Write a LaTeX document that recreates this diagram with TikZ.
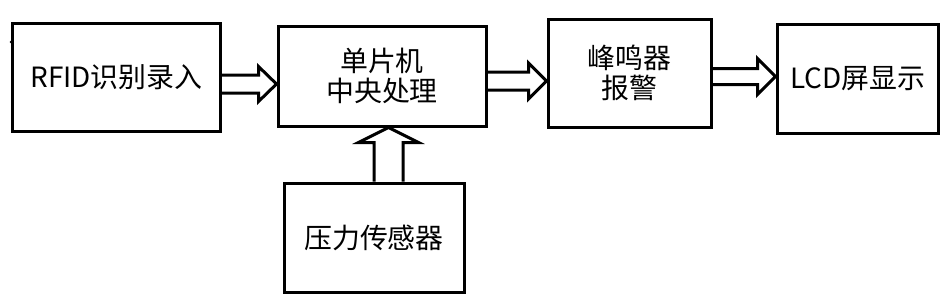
\documentclass[tikz,border=0pt]{standalone}
\usepackage{fontspec}
\setmainfont{Noto Sans CJK SC}
\usetikzlibrary{calc}
\newcommand{\boxtextfont}{\fontsize{28}{30}\selectfont\lineskiplimit=-100pt\relax}
\newcommand{\harrowblk}[5]{% from, to, y-coordinate name, half shaft, half head, (head length fixed 18)
  \draw[blk] ($(#1.east |- #3)+(0,-#4)$) -- ($(#2.west |- #3)+(-18,-#4)$) -- ($(#2.west |- #3)+(-18,-#5)$)
    -- (#2.west |- #3) -- ($(#2.west |- #3)+(-18,#5)$) -- ($(#2.west |- #3)+(-18,#4)$) -- ($(#1.east |- #3)+(0,#4)$);
}
\begin{document}
\begin{tikzpicture}[x=1bp,y=-1bp,
  box/.style={draw, line width=3bp, inner sep=0pt, align=center, font=\boxtextfont},
  blk/.style={draw, line width=3bp, line join=miter}]
\useasboundingbox (0,0) rectangle (945,299);
\node[box, minimum width=207bp, minimum height=108bp] (rfid) at (116.5,77) {RFID识别录入};
\node[box, minimum width=208bp, minimum height=100bp] (mcu) at (382,76) {单片机\\中央处理};
\node[box, minimum width=163bp, minimum height=108bp] (buzz) at (629.5,73) {峰鸣器\\报警};
\node[box, minimum width=161bp, minimum height=109bp] (lcd) at (857.5,78.5) {LCD屏显示};
\node[box, minimum width=180bp, minimum height=109bp] (sens) at (374,237.5) {压力传感器};
\coordinate (y1) at (0,84);
\coordinate (y2) at (0,81);
\coordinate (y3) at (0,76.5);
\coordinate (x4) at (388.5,0);
\harrowblk{rfid}{mcu}{y1}{9}{17.5}
\harrowblk{mcu}{buzz}{y2}{9}{18}
\harrowblk{buzz}{lcd}{y3}{8}{18}
\draw[blk] ($(x4 |- sens.north)+(-14.5,0)$) -- ($(x4 |- mcu.south)+(-14.5,15)$) -- ($(x4 |- mcu.south)+(-30,15)$)
  -- (x4 |- mcu.south) -- ($(x4 |- mcu.south)+(30,15)$) -- ($(x4 |- mcu.south)+(14.5,15)$) -- ($(x4 |- sens.north)+(14.5,0)$);
\fill (11,42) circle (1.3bp);
\end{tikzpicture}
\end{document}
